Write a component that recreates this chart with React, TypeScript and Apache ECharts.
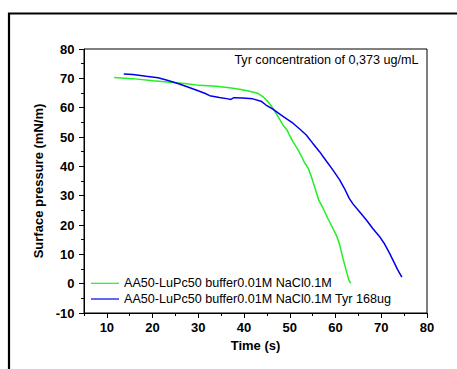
import React, { useEffect, useRef } from "react";
import * as echarts from "echarts";

const seriesNames = [
  "AA50-LuPc50 buffer0.01M NaCl0.1M",
  "AA50-LuPc50 buffer0.01M NaCl0.1M Tyr 168ug",
];
const annotation = "Tyr concentration of 0,373 ug/mL";
const xTickLabels = [10, 20, 30, 40, 50, 60, 70, 80];
const yTickLabels = [-10, 0, 10, 20, 30, 40, 50, 60, 70, 80];

const timeGreen = [11.6, 15.7, 20.1, 24.4, 27.0, 30.3, 33.9, 36.8, 39.0, 41.2, 43.0, 44.1, 45.2, 46.3, 47.4, 48.5, 49.4, 49.9, 50.7, 51.8, 52.5, 53.2, 54.0, 54.7, 55.4, 56.3, 57.1, 58.3, 59.4, 60.3, 60.9, 61.6, 62.3, 62.9, 63.3];
const pressureGreen = [70.3, 69.9, 69.2, 68.6, 68.2, 67.6, 67.3, 66.8, 66.3, 65.6, 64.9, 63.8, 62.1, 59.8, 57.0, 54.1, 52.4, 50.7, 48.4, 45.6, 43.6, 41.3, 39.4, 36.5, 33.1, 28.6, 26.3, 22.3, 18.9, 16.1, 13.3, 8.7, 4.7, 1.3, 0.1];

const timeBlue = [13.7, 15.7, 18.6, 21.2, 23.0, 25.2, 27.4, 29.5, 31.4, 32.5, 34.6, 36.5, 37.1, 37.8, 39.7, 41.9, 43.7, 44.8, 46.3, 48.5, 50.7, 52.1, 53.6, 55.0, 56.5, 57.9, 59.4, 60.9, 61.9, 63.0, 63.8, 65.2, 66.7, 68.1, 69.6, 70.7, 71.8, 72.5, 73.6, 74.5];
const pressureBlue = [71.5, 71.3, 70.7, 70.2, 69.4, 68.4, 67.2, 66.0, 64.9, 64.1, 63.5, 63.0, 62.8, 63.4, 63.3, 63.0, 62.2, 60.9, 59.5, 57.0, 54.7, 52.8, 50.7, 47.9, 45.0, 42.0, 38.8, 35.4, 32.6, 29.1, 27.2, 24.6, 21.8, 18.9, 16.1, 13.6, 10.4, 8.2, 4.7, 2.2];

const zip = (xs: number[], ys: number[]) => xs.map((x, i) => [x, ys[i]]);

const FONT = "'Liberation Sans', Arial, sans-serif";
const GREEN = "#22ee22";
const BLUE = "#0000ee";

export default function App() {
  const ref = useRef<HTMLDivElement>(null);
  useEffect(() => {
    if (!ref.current) return;
    document.body.style.margin = "0";
    const chart = echarts.init(ref.current, null, { renderer: "svg" });
    chart.setOption({
      animation: false,
      backgroundColor: "#fff",
      textStyle: { fontFamily: FONT },
      grid: {
        left: 84,
        top: 49,
        right: 30,
        bottom: 56,
        show: true,
        borderColor: "#000",
        borderWidth: 1,
        backgroundColor: "transparent",
      },
      legend: {
        orient: "vertical",
        left: 91,
        top: 276.3,
        padding: 0,
        itemWidth: 28,
        itemHeight: 1.2,
        itemGap: 1.7,
        icon: "rect",
        data: seriesNames,
        textStyle: { fontFamily: FONT, fontSize: 12.6, color: "#000", lineHeight: 14 },
      },
      xAxis: [
        {
          type: "value",
          min: 5,
          max: 80,
          interval: 5,
          name: "Time (s)",
          nameLocation: "middle",
          nameGap: 23,
          nameTextStyle: { fontFamily: FONT, fontSize: 13, fontWeight: "bold", color: "#000" },
          axisLine: { show: true, onZero: false, lineStyle: { color: "#000", width: 1 } },
          axisTick: { show: true, length: 3, lineStyle: { color: "#000" } },
          axisLabel: {
            show: true,
            margin: 8,
            fontFamily: FONT,
            fontSize: 13,
            fontWeight: "bold",
            color: "#000",
            formatter: (v: number) => (xTickLabels.includes(v) ? String(v) : ""),
          },
          splitLine: { show: false },
        },
        {
          type: "value",
          position: "bottom",
          min: 5,
          max: 80,
          interval: 5,
          axisLine: { show: false, onZero: false },
          axisTick: { show: true, length: 5, lineStyle: { color: "#000" }, customValues: xTickLabels },
          axisLabel: { show: false },
          splitLine: { show: false },
        },
      ],
      yAxis: [
        {
          type: "value",
          min: -10,
          max: 80,
          interval: 5,
          name: "Surface pressure (mN/m)",
          nameLocation: "middle",
          nameGap: 31,
          nameTextStyle: { fontFamily: FONT, fontSize: 13, fontWeight: "bold", color: "#000" },
          axisLine: { show: true, onZero: false, lineStyle: { color: "#000", width: 1 } },
          axisTick: { show: true, length: 3, lineStyle: { color: "#000" } },
          axisLabel: {
            margin: 9.5,
            fontFamily: FONT,
            fontSize: 13,
            fontWeight: "bold",
            color: "#000",
            formatter: (v: number) => (yTickLabels.includes(v) ? String(v) : ""),
          },
          splitLine: { show: false },
        },
        {
          type: "value",
          position: "left",
          min: -10,
          max: 80,
          interval: 5,
          axisLine: { show: false, onZero: false },
          axisTick: { show: true, length: 5, lineStyle: { color: "#000" }, customValues: yTickLabels },
          axisLabel: { show: false },
          splitLine: { show: false },
        },
      ],
      graphic: [
        {
          type: "polyline",
          shape: { points: [[9, 380], [9, 13.5], [470, 13.5]] },
          style: { fill: "none", stroke: "#000", lineWidth: 2.2 },
          silent: true,
        },
        {
          type: "text",
          x: 418.5,
          y: 60,
          style: {
            text: annotation,
            fontFamily: FONT,
            fontSize: 12.6,
            fill: "#000",
            align: "right",
            verticalAlign: "middle",
          },
        },
      ],
      series: [
        {
          name: seriesNames[0],
          type: "line",
          data: zip(timeGreen, pressureGreen),
          showSymbol: false,
          symbol: "none",
          lineStyle: { color: GREEN, width: 1.5 },
          itemStyle: { color: GREEN },
        },
        {
          name: seriesNames[1],
          type: "line",
          data: zip(timeBlue, pressureBlue),
          showSymbol: false,
          symbol: "none",
          lineStyle: { color: BLUE, width: 1.5 },
          itemStyle: { color: BLUE },
        },
      ],
    });
    return () => chart.dispose();
  }, []);
  return (
    <div
      ref={ref}
      style={{ position: "fixed", left: 0, top: 0, width: 457, height: 369, overflow: "hidden" }}
    />
  );
}
